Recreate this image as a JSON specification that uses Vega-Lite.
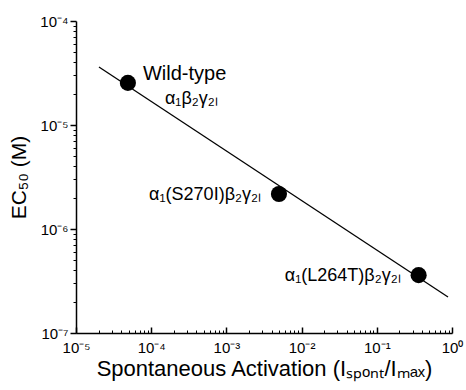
{
  "$schema": "https://vega.github.io/schema/vega-lite/v6.json",
  "width": 376,
  "height": 312,
  "autosize": "none",
  "padding": {"left": 76, "top": 21, "right": 14, "bottom": 57},
  "background": "white",
  "config": {
    "view": {"stroke": null},
    "font": "Liberation Sans",
    "axis": {
      "grid": false,
      "domainColor": "black",
      "domainWidth": 1.5,
      "tickColor": "black",
      "labelColor": "black",
      "titleColor": "black",
      "labelFont": "Liberation Sans",
      "titleFont": "Liberation Sans",
      "labelFontSize": 15,
      "titleFontSize": 21,
      "titleFontWeight": "normal"
    }
  },
  "datasets": {
    "points": [
      {"key": "wt", "activation": 4.9e-5, "ec50": 2.54e-5, "name": "Wild-type", "formula": "α₁β₂γ₂ₗ"},
      {"key": "S270I", "activation": 5.0e-3, "ec50": 2.17e-6, "name": "", "formula": "α₁(S270I)β₂γ₂ₗ"},
      {"key": "L264T", "activation": 0.36, "ec50": 3.6e-7, "name": "", "formula": "α₁(L264T)β₂γ₂ₗ"}
    ],
    "fit": [
      {"activation": 2.02e-5, "ec50": 3.61e-5},
      {"activation": 0.885, "ec50": 2.22e-7}
    ]
  },
  "resolve": {"axis": {"x": "independent", "y": "independent"}},
  "layer": [
    {
      "data": {"name": "fit"},
      "mark": {"type": "line", "color": "black", "strokeWidth": 1.3},
      "encoding": {
        "x": {
          "field": "activation",
          "type": "quantitative",
          "scale": {"type": "log", "domain": [1e-5, 1], "nice": false},
          "axis": {
            "orient": "bottom",
            "title": "Spontaneous Activation (Iₛₚₒₙₜ/Iₘₐₓ)",
            "titleFontSize": 22,
            "titlePadding": 3,
            "values": [1e-5, 1e-4, 1e-3, 1e-2, 0.1, 1],
            "labelExpr": "'10' + (round(log(datum.value)/LN10) == 0 ? '⁰' : '⁻' + ['', '¹', '²', '³', '⁴', '⁵', '⁶', '⁷'][round(-log(datum.value)/LN10)])",
            "ticks": true,
            "tickSize": -6,
            "tickWidth": 1.5,
            "labelFontSize": 15,
            "labelPadding": 13,
            "labelFlush": false
          }
        },
        "y": {
          "field": "ec50",
          "type": "quantitative",
          "scale": {"type": "log", "domain": [1e-7, 1e-4], "nice": false},
          "axis": {
            "orient": "left",
            "title": "EC₅₀ (M)",
            "titlePadding": 10,
            "values": [1e-7, 1e-6, 1e-5, 1e-4],
            "labelExpr": "'10' + '⁻' + ['', '¹', '²', '³', '⁴', '⁵', '⁶', '⁷'][round(-log(datum.value)/LN10)]",
            "ticks": true,
            "tickSize": 6,
            "tickWidth": 1.5,
            "labelFontSize": 15,
            "labelPadding": 2,
            "labelFlush": false
          }
        }
      }
    },
    {
      "data": {"name": "points"},
      "mark": {"type": "circle", "color": "black", "opacity": 1, "size": 260},
      "encoding": {
        "x": {
          "field": "activation",
          "type": "quantitative",
          "scale": {"type": "log", "domain": [1e-5, 1], "nice": false},
          "axis": {
            "orient": "bottom",
            "title": null,
            "labels": false,
            "domain": false,
            "values": [2e-5, 3e-5, 4e-5, 5e-5, 6e-5, 7e-5, 8e-5, 9e-5, 2e-4, 3e-4, 4e-4, 5e-4, 6e-4, 7e-4, 8e-4, 9e-4, 2e-3, 3e-3, 4e-3, 5e-3, 6e-3, 7e-3, 8e-3, 9e-3, 2e-2, 3e-2, 4e-2, 5e-2, 6e-2, 7e-2, 8e-2, 9e-2, 0.2, 0.3, 0.4, 0.5, 0.6, 0.7, 0.8, 0.9],
            "tickSize": -3,
            "tickWidth": 1
          }
        },
        "y": {
          "field": "ec50",
          "type": "quantitative",
          "scale": {"type": "log", "domain": [1e-7, 1e-4], "nice": false},
          "axis": {
            "orient": "left",
            "title": null,
            "labels": false,
            "domain": false,
            "values": [2e-7, 3e-7, 4e-7, 5e-7, 6e-7, 7e-7, 8e-7, 9e-7, 2e-6, 3e-6, 4e-6, 5e-6, 6e-6, 7e-6, 8e-6, 9e-6, 2e-5, 3e-5, 4e-5, 5e-5, 6e-5, 7e-5, 8e-5, 9e-5],
            "tickSize": 3,
            "tickWidth": 1
          }
        }
      }
    },
    {
      "data": {"name": "points"},
      "transform": [{"filter": "datum.key == 'wt'"}],
      "mark": {"type": "text", "align": "left", "baseline": "middle", "dx": 15, "dy": -9, "fontSize": 20, "font": "Liberation Sans", "color": "black"},
      "encoding": {
        "x": {"field": "activation", "type": "quantitative", "scale": {"type": "log", "domain": [1e-5, 1], "nice": false}, "axis": null},
        "y": {"field": "ec50", "type": "quantitative", "scale": {"type": "log", "domain": [1e-7, 1e-4], "nice": false}, "axis": null},
        "text": {"field": "name"}
      }
    },
    {
      "data": {"name": "points"},
      "transform": [{"filter": "datum.key == 'wt'"}],
      "mark": {"type": "text", "align": "left", "baseline": "middle", "dx": 37, "dy": 16, "fontSize": 18, "font": "Liberation Sans", "color": "black"},
      "encoding": {
        "x": {"field": "activation", "type": "quantitative", "scale": {"type": "log", "domain": [1e-5, 1], "nice": false}, "axis": null},
        "y": {"field": "ec50", "type": "quantitative", "scale": {"type": "log", "domain": [1e-7, 1e-4], "nice": false}, "axis": null},
        "text": {"field": "formula"}
      }
    },
    {
      "data": {"name": "points"},
      "transform": [{"filter": "datum.key != 'wt'"}],
      "mark": {"type": "text", "align": "right", "baseline": "middle", "dx": -18, "dy": 1, "fontSize": 18, "font": "Liberation Sans", "color": "black"},
      "encoding": {
        "x": {"field": "activation", "type": "quantitative", "scale": {"type": "log", "domain": [1e-5, 1], "nice": false}, "axis": null},
        "y": {"field": "ec50", "type": "quantitative", "scale": {"type": "log", "domain": [1e-7, 1e-4], "nice": false}, "axis": null},
        "text": {"field": "formula"}
      }
    }
  ]
}
